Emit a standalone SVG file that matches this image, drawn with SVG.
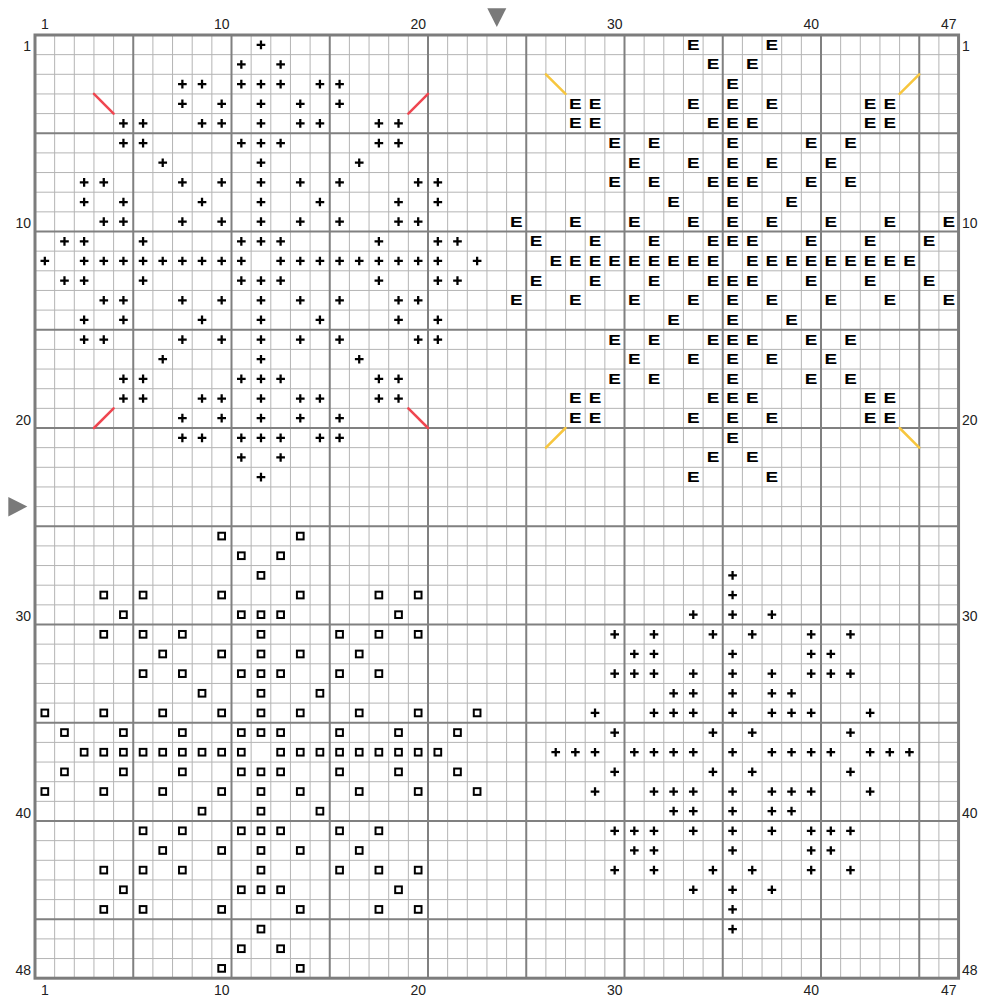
<svg xmlns="http://www.w3.org/2000/svg" xmlns:xlink="http://www.w3.org/1999/xlink" width="983" height="1001" viewBox="0 0 983 1001">
<style>
.thin{fill:none;stroke:#b4b4b4;stroke-width:1}
.thick{fill:none;stroke:#808080;stroke-width:2}
.border{fill:none;stroke:#7c7c7c;stroke-width:3}
.lbl{font-family:"Liberation Sans",Arial,sans-serif;font-size:14px;fill:#222}
.mid{text-anchor:middle}
.end{text-anchor:end}
.e{font-family:"Liberation Sans",Arial,sans-serif;font-weight:bold;font-size:14px;text-anchor:middle;fill:#000}
.red{stroke:#ef4650;stroke-width:2.5;stroke-linecap:round}
.yel{stroke:#f7c63e;stroke-width:2.5;stroke-linecap:round}
.arrow{fill:#7a7a7a}
</style>
<defs>
<path id="p" d="M-.22 0H.22M0-.22V.22" stroke="#000" stroke-width=".115" fill="none"/>
<rect id="q" x="-.17" y="-.17" width=".34" height=".34" stroke="#000" stroke-width=".102" fill="none"/>
</defs>
<rect width="983" height="1001" fill="#fff"/>
<g id="grid">
<path class="thin" d="M54.65 35V978.2M74.3 35V978.2M93.95 35V978.2M113.6 35V978.2M152.9 35V978.2M172.55 35V978.2M192.2 35V978.2M211.85 35V978.2M251.15 35V978.2M270.8 35V978.2M290.45 35V978.2M310.1 35V978.2M349.4 35V978.2M369.05 35V978.2M388.7 35V978.2M408.35 35V978.2M447.65 35V978.2M467.3 35V978.2M486.95 35V978.2M506.6 35V978.2M545.9 35V978.2M565.55 35V978.2M585.2 35V978.2M604.85 35V978.2M644.15 35V978.2M663.8 35V978.2M683.45 35V978.2M703.1 35V978.2M742.4 35V978.2M762.05 35V978.2M781.7 35V978.2M801.35 35V978.2M840.65 35V978.2M860.3 35V978.2M879.95 35V978.2M899.6 35V978.2M938.9 35V978.2"/>
<path class="thin" d="M35 54.65H958.55M35 74.3H958.55M35 93.95H958.55M35 113.6H958.55M35 152.9H958.55M35 172.55H958.55M35 192.2H958.55M35 211.85H958.55M35 251.15H958.55M35 270.8H958.55M35 290.45H958.55M35 310.1H958.55M35 349.4H958.55M35 369.05H958.55M35 388.7H958.55M35 408.35H958.55M35 447.65H958.55M35 467.3H958.55M35 486.95H958.55M35 506.6H958.55M35 545.9H958.55M35 565.55H958.55M35 585.2H958.55M35 604.85H958.55M35 644.15H958.55M35 663.8H958.55M35 683.45H958.55M35 703.1H958.55M35 742.4H958.55M35 762.05H958.55M35 781.7H958.55M35 801.35H958.55M35 840.65H958.55M35 860.3H958.55M35 879.95H958.55M35 899.6H958.55M35 938.9H958.55M35 958.55H958.55"/>
<path class="thick" d="M133.25 35V978.2M231.5 35V978.2M329.75 35V978.2M428 35V978.2M526.25 35V978.2M624.5 35V978.2M722.75 35V978.2M821 35V978.2M919.25 35V978.2M35 133.25H958.55M35 231.5H958.55M35 329.75H958.55M35 428H958.55M35 526.25H958.55M35 624.5H958.55M35 722.75H958.55M35 821H958.55M35 919.25H958.55"/>
<rect class="border" x="35" y="35" width="923.55" height="943.2"/>
</g>
<g transform="translate(25.175 25.175) scale(19.65)">
<g id="motif-tl">
<use href="#p" x="12" y="1"/>
<use href="#p" x="11" y="2"/><use href="#p" x="13" y="2"/>
<use href="#p" x="8" y="3"/><use href="#p" x="9" y="3"/><use href="#p" x="11" y="3"/><use href="#p" x="12" y="3"/><use href="#p" x="13" y="3"/><use href="#p" x="15" y="3"/><use href="#p" x="16" y="3"/>
<use href="#p" x="8" y="4"/><use href="#p" x="10" y="4"/><use href="#p" x="12" y="4"/><use href="#p" x="14" y="4"/><use href="#p" x="16" y="4"/>
<use href="#p" x="5" y="5"/><use href="#p" x="6" y="5"/><use href="#p" x="9" y="5"/><use href="#p" x="10" y="5"/><use href="#p" x="12" y="5"/><use href="#p" x="14" y="5"/><use href="#p" x="15" y="5"/><use href="#p" x="18" y="5"/><use href="#p" x="19" y="5"/>
<use href="#p" x="5" y="6"/><use href="#p" x="6" y="6"/><use href="#p" x="11" y="6"/><use href="#p" x="12" y="6"/><use href="#p" x="13" y="6"/><use href="#p" x="18" y="6"/><use href="#p" x="19" y="6"/>
<use href="#p" x="7" y="7"/><use href="#p" x="12" y="7"/><use href="#p" x="17" y="7"/>
<use href="#p" x="3" y="8"/><use href="#p" x="4" y="8"/><use href="#p" x="8" y="8"/><use href="#p" x="10" y="8"/><use href="#p" x="12" y="8"/><use href="#p" x="14" y="8"/><use href="#p" x="16" y="8"/><use href="#p" x="20" y="8"/><use href="#p" x="21" y="8"/>
<use href="#p" x="3" y="9"/><use href="#p" x="5" y="9"/><use href="#p" x="9" y="9"/><use href="#p" x="12" y="9"/><use href="#p" x="15" y="9"/><use href="#p" x="19" y="9"/><use href="#p" x="21" y="9"/>
<use href="#p" x="4" y="10"/><use href="#p" x="5" y="10"/><use href="#p" x="8" y="10"/><use href="#p" x="10" y="10"/><use href="#p" x="12" y="10"/><use href="#p" x="14" y="10"/><use href="#p" x="16" y="10"/><use href="#p" x="19" y="10"/><use href="#p" x="20" y="10"/>
<use href="#p" x="2" y="11"/><use href="#p" x="3" y="11"/><use href="#p" x="6" y="11"/><use href="#p" x="11" y="11"/><use href="#p" x="12" y="11"/><use href="#p" x="13" y="11"/><use href="#p" x="18" y="11"/><use href="#p" x="21" y="11"/><use href="#p" x="22" y="11"/>
<use href="#p" x="1" y="12"/><use href="#p" x="3" y="12"/><use href="#p" x="4" y="12"/><use href="#p" x="5" y="12"/><use href="#p" x="6" y="12"/><use href="#p" x="7" y="12"/><use href="#p" x="8" y="12"/><use href="#p" x="9" y="12"/><use href="#p" x="10" y="12"/><use href="#p" x="11" y="12"/><use href="#p" x="13" y="12"/><use href="#p" x="14" y="12"/><use href="#p" x="15" y="12"/><use href="#p" x="16" y="12"/><use href="#p" x="17" y="12"/><use href="#p" x="18" y="12"/><use href="#p" x="19" y="12"/><use href="#p" x="20" y="12"/><use href="#p" x="21" y="12"/><use href="#p" x="23" y="12"/>
<use href="#p" x="2" y="13"/><use href="#p" x="3" y="13"/><use href="#p" x="6" y="13"/><use href="#p" x="11" y="13"/><use href="#p" x="12" y="13"/><use href="#p" x="13" y="13"/><use href="#p" x="18" y="13"/><use href="#p" x="21" y="13"/><use href="#p" x="22" y="13"/>
<use href="#p" x="4" y="14"/><use href="#p" x="5" y="14"/><use href="#p" x="8" y="14"/><use href="#p" x="10" y="14"/><use href="#p" x="12" y="14"/><use href="#p" x="14" y="14"/><use href="#p" x="16" y="14"/><use href="#p" x="19" y="14"/><use href="#p" x="20" y="14"/>
<use href="#p" x="3" y="15"/><use href="#p" x="5" y="15"/><use href="#p" x="9" y="15"/><use href="#p" x="12" y="15"/><use href="#p" x="15" y="15"/><use href="#p" x="19" y="15"/><use href="#p" x="21" y="15"/>
<use href="#p" x="3" y="16"/><use href="#p" x="4" y="16"/><use href="#p" x="8" y="16"/><use href="#p" x="10" y="16"/><use href="#p" x="12" y="16"/><use href="#p" x="14" y="16"/><use href="#p" x="16" y="16"/><use href="#p" x="20" y="16"/><use href="#p" x="21" y="16"/>
<use href="#p" x="7" y="17"/><use href="#p" x="12" y="17"/><use href="#p" x="17" y="17"/>
<use href="#p" x="5" y="18"/><use href="#p" x="6" y="18"/><use href="#p" x="11" y="18"/><use href="#p" x="12" y="18"/><use href="#p" x="13" y="18"/><use href="#p" x="18" y="18"/><use href="#p" x="19" y="18"/>
<use href="#p" x="5" y="19"/><use href="#p" x="6" y="19"/><use href="#p" x="9" y="19"/><use href="#p" x="10" y="19"/><use href="#p" x="12" y="19"/><use href="#p" x="14" y="19"/><use href="#p" x="15" y="19"/><use href="#p" x="18" y="19"/><use href="#p" x="19" y="19"/>
<use href="#p" x="8" y="20"/><use href="#p" x="10" y="20"/><use href="#p" x="12" y="20"/><use href="#p" x="14" y="20"/><use href="#p" x="16" y="20"/>
<use href="#p" x="8" y="21"/><use href="#p" x="9" y="21"/><use href="#p" x="11" y="21"/><use href="#p" x="12" y="21"/><use href="#p" x="13" y="21"/><use href="#p" x="15" y="21"/><use href="#p" x="16" y="21"/>
<use href="#p" x="11" y="22"/><use href="#p" x="13" y="22"/>
<use href="#p" x="12" y="23"/>
</g>
<g id="motif-bl">
<use href="#q" x="10" y="26"/><use href="#q" x="14" y="26"/>
<use href="#q" x="11" y="27"/><use href="#q" x="13" y="27"/>
<use href="#q" x="12" y="28"/>
<use href="#q" x="4" y="29"/><use href="#q" x="6" y="29"/><use href="#q" x="10" y="29"/><use href="#q" x="14" y="29"/><use href="#q" x="18" y="29"/><use href="#q" x="20" y="29"/>
<use href="#q" x="5" y="30"/><use href="#q" x="11" y="30"/><use href="#q" x="12" y="30"/><use href="#q" x="13" y="30"/><use href="#q" x="19" y="30"/>
<use href="#q" x="4" y="31"/><use href="#q" x="6" y="31"/><use href="#q" x="8" y="31"/><use href="#q" x="12" y="31"/><use href="#q" x="16" y="31"/><use href="#q" x="18" y="31"/><use href="#q" x="20" y="31"/>
<use href="#q" x="7" y="32"/><use href="#q" x="10" y="32"/><use href="#q" x="12" y="32"/><use href="#q" x="14" y="32"/><use href="#q" x="17" y="32"/>
<use href="#q" x="6" y="33"/><use href="#q" x="8" y="33"/><use href="#q" x="11" y="33"/><use href="#q" x="12" y="33"/><use href="#q" x="13" y="33"/><use href="#q" x="16" y="33"/><use href="#q" x="18" y="33"/>
<use href="#q" x="9" y="34"/><use href="#q" x="12" y="34"/><use href="#q" x="15" y="34"/>
<use href="#q" x="1" y="35"/><use href="#q" x="4" y="35"/><use href="#q" x="7" y="35"/><use href="#q" x="10" y="35"/><use href="#q" x="12" y="35"/><use href="#q" x="14" y="35"/><use href="#q" x="17" y="35"/><use href="#q" x="20" y="35"/><use href="#q" x="23" y="35"/>
<use href="#q" x="2" y="36"/><use href="#q" x="5" y="36"/><use href="#q" x="8" y="36"/><use href="#q" x="11" y="36"/><use href="#q" x="12" y="36"/><use href="#q" x="13" y="36"/><use href="#q" x="16" y="36"/><use href="#q" x="19" y="36"/><use href="#q" x="22" y="36"/>
<use href="#q" x="3" y="37"/><use href="#q" x="4" y="37"/><use href="#q" x="5" y="37"/><use href="#q" x="6" y="37"/><use href="#q" x="7" y="37"/><use href="#q" x="8" y="37"/><use href="#q" x="9" y="37"/><use href="#q" x="10" y="37"/><use href="#q" x="11" y="37"/><use href="#q" x="13" y="37"/><use href="#q" x="14" y="37"/><use href="#q" x="15" y="37"/><use href="#q" x="16" y="37"/><use href="#q" x="17" y="37"/><use href="#q" x="18" y="37"/><use href="#q" x="19" y="37"/><use href="#q" x="20" y="37"/><use href="#q" x="21" y="37"/>
<use href="#q" x="2" y="38"/><use href="#q" x="5" y="38"/><use href="#q" x="8" y="38"/><use href="#q" x="11" y="38"/><use href="#q" x="12" y="38"/><use href="#q" x="13" y="38"/><use href="#q" x="16" y="38"/><use href="#q" x="19" y="38"/><use href="#q" x="22" y="38"/>
<use href="#q" x="1" y="39"/><use href="#q" x="4" y="39"/><use href="#q" x="7" y="39"/><use href="#q" x="10" y="39"/><use href="#q" x="12" y="39"/><use href="#q" x="14" y="39"/><use href="#q" x="17" y="39"/><use href="#q" x="20" y="39"/><use href="#q" x="23" y="39"/>
<use href="#q" x="9" y="40"/><use href="#q" x="12" y="40"/><use href="#q" x="15" y="40"/>
<use href="#q" x="6" y="41"/><use href="#q" x="8" y="41"/><use href="#q" x="11" y="41"/><use href="#q" x="12" y="41"/><use href="#q" x="13" y="41"/><use href="#q" x="16" y="41"/><use href="#q" x="18" y="41"/>
<use href="#q" x="7" y="42"/><use href="#q" x="10" y="42"/><use href="#q" x="12" y="42"/><use href="#q" x="14" y="42"/><use href="#q" x="17" y="42"/>
<use href="#q" x="4" y="43"/><use href="#q" x="6" y="43"/><use href="#q" x="8" y="43"/><use href="#q" x="12" y="43"/><use href="#q" x="16" y="43"/><use href="#q" x="18" y="43"/><use href="#q" x="20" y="43"/>
<use href="#q" x="5" y="44"/><use href="#q" x="11" y="44"/><use href="#q" x="12" y="44"/><use href="#q" x="13" y="44"/><use href="#q" x="19" y="44"/>
<use href="#q" x="4" y="45"/><use href="#q" x="6" y="45"/><use href="#q" x="10" y="45"/><use href="#q" x="14" y="45"/><use href="#q" x="18" y="45"/><use href="#q" x="20" y="45"/>
<use href="#q" x="12" y="46"/>
<use href="#q" x="11" y="47"/><use href="#q" x="13" y="47"/>
<use href="#q" x="10" y="48"/><use href="#q" x="14" y="48"/>
</g>
<g id="motif-br">
<use href="#p" x="36" y="28"/>
<use href="#p" x="36" y="29"/>
<use href="#p" x="34" y="30"/><use href="#p" x="36" y="30"/><use href="#p" x="38" y="30"/>
<use href="#p" x="30" y="31"/><use href="#p" x="32" y="31"/><use href="#p" x="35" y="31"/><use href="#p" x="37" y="31"/><use href="#p" x="40" y="31"/><use href="#p" x="42" y="31"/>
<use href="#p" x="31" y="32"/><use href="#p" x="32" y="32"/><use href="#p" x="36" y="32"/><use href="#p" x="40" y="32"/><use href="#p" x="41" y="32"/>
<use href="#p" x="30" y="33"/><use href="#p" x="31" y="33"/><use href="#p" x="32" y="33"/><use href="#p" x="34" y="33"/><use href="#p" x="36" y="33"/><use href="#p" x="38" y="33"/><use href="#p" x="40" y="33"/><use href="#p" x="41" y="33"/><use href="#p" x="42" y="33"/>
<use href="#p" x="33" y="34"/><use href="#p" x="34" y="34"/><use href="#p" x="36" y="34"/><use href="#p" x="38" y="34"/><use href="#p" x="39" y="34"/>
<use href="#p" x="29" y="35"/><use href="#p" x="32" y="35"/><use href="#p" x="33" y="35"/><use href="#p" x="34" y="35"/><use href="#p" x="36" y="35"/><use href="#p" x="38" y="35"/><use href="#p" x="39" y="35"/><use href="#p" x="40" y="35"/><use href="#p" x="43" y="35"/>
<use href="#p" x="30" y="36"/><use href="#p" x="35" y="36"/><use href="#p" x="37" y="36"/><use href="#p" x="42" y="36"/>
<use href="#p" x="27" y="37"/><use href="#p" x="28" y="37"/><use href="#p" x="29" y="37"/><use href="#p" x="31" y="37"/><use href="#p" x="32" y="37"/><use href="#p" x="33" y="37"/><use href="#p" x="34" y="37"/><use href="#p" x="36" y="37"/><use href="#p" x="38" y="37"/><use href="#p" x="39" y="37"/><use href="#p" x="40" y="37"/><use href="#p" x="41" y="37"/><use href="#p" x="43" y="37"/><use href="#p" x="44" y="37"/><use href="#p" x="45" y="37"/>
<use href="#p" x="30" y="38"/><use href="#p" x="35" y="38"/><use href="#p" x="37" y="38"/><use href="#p" x="42" y="38"/>
<use href="#p" x="29" y="39"/><use href="#p" x="32" y="39"/><use href="#p" x="33" y="39"/><use href="#p" x="34" y="39"/><use href="#p" x="36" y="39"/><use href="#p" x="38" y="39"/><use href="#p" x="39" y="39"/><use href="#p" x="40" y="39"/><use href="#p" x="43" y="39"/>
<use href="#p" x="33" y="40"/><use href="#p" x="34" y="40"/><use href="#p" x="36" y="40"/><use href="#p" x="38" y="40"/><use href="#p" x="39" y="40"/>
<use href="#p" x="30" y="41"/><use href="#p" x="31" y="41"/><use href="#p" x="32" y="41"/><use href="#p" x="34" y="41"/><use href="#p" x="36" y="41"/><use href="#p" x="38" y="41"/><use href="#p" x="40" y="41"/><use href="#p" x="41" y="41"/><use href="#p" x="42" y="41"/>
<use href="#p" x="31" y="42"/><use href="#p" x="32" y="42"/><use href="#p" x="36" y="42"/><use href="#p" x="40" y="42"/><use href="#p" x="41" y="42"/>
<use href="#p" x="30" y="43"/><use href="#p" x="32" y="43"/><use href="#p" x="35" y="43"/><use href="#p" x="37" y="43"/><use href="#p" x="40" y="43"/><use href="#p" x="42" y="43"/>
<use href="#p" x="34" y="44"/><use href="#p" x="36" y="44"/><use href="#p" x="38" y="44"/>
<use href="#p" x="36" y="45"/>
<use href="#p" x="36" y="46"/>
</g>
</g>
<g id="motif-tr" transform="scale(1.35 1)">
<text class="e" x="513.54" y="49.8">E</text><text class="e" x="571.77" y="49.8">E</text>
<text class="e" x="528.10" y="69.5">E</text><text class="e" x="557.21" y="69.5">E</text>
<text class="e" x="542.66" y="89.1">E</text>
<text class="e" x="426.21" y="108.8">E</text><text class="e" x="440.77" y="108.8">E</text><text class="e" x="513.54" y="108.8">E</text><text class="e" x="542.66" y="108.8">E</text><text class="e" x="571.77" y="108.8">E</text><text class="e" x="644.55" y="108.8">E</text><text class="e" x="659.10" y="108.8">E</text>
<text class="e" x="426.21" y="128.4">E</text><text class="e" x="440.77" y="128.4">E</text><text class="e" x="528.10" y="128.4">E</text><text class="e" x="542.66" y="128.4">E</text><text class="e" x="557.21" y="128.4">E</text><text class="e" x="644.55" y="128.4">E</text><text class="e" x="659.10" y="128.4">E</text>
<text class="e" x="455.32" y="148.1">E</text><text class="e" x="484.43" y="148.1">E</text><text class="e" x="542.66" y="148.1">E</text><text class="e" x="600.88" y="148.1">E</text><text class="e" x="629.99" y="148.1">E</text>
<text class="e" x="469.88" y="167.7">E</text><text class="e" x="513.54" y="167.7">E</text><text class="e" x="542.66" y="167.7">E</text><text class="e" x="571.77" y="167.7">E</text><text class="e" x="615.43" y="167.7">E</text>
<text class="e" x="455.32" y="187.4">E</text><text class="e" x="484.43" y="187.4">E</text><text class="e" x="528.10" y="187.4">E</text><text class="e" x="542.66" y="187.4">E</text><text class="e" x="557.21" y="187.4">E</text><text class="e" x="600.88" y="187.4">E</text><text class="e" x="629.99" y="187.4">E</text>
<text class="e" x="498.99" y="207.0">E</text><text class="e" x="542.66" y="207.0">E</text><text class="e" x="586.32" y="207.0">E</text>
<text class="e" x="382.54" y="226.7">E</text><text class="e" x="426.21" y="226.7">E</text><text class="e" x="469.88" y="226.7">E</text><text class="e" x="513.54" y="226.7">E</text><text class="e" x="542.66" y="226.7">E</text><text class="e" x="571.77" y="226.7">E</text><text class="e" x="615.43" y="226.7">E</text><text class="e" x="659.10" y="226.7">E</text><text class="e" x="702.77" y="226.7">E</text>
<text class="e" x="397.10" y="246.3">E</text><text class="e" x="440.77" y="246.3">E</text><text class="e" x="484.43" y="246.3">E</text><text class="e" x="528.10" y="246.3">E</text><text class="e" x="542.66" y="246.3">E</text><text class="e" x="557.21" y="246.3">E</text><text class="e" x="600.88" y="246.3">E</text><text class="e" x="644.55" y="246.3">E</text><text class="e" x="688.21" y="246.3">E</text>
<text class="e" x="411.65" y="266.0">E</text><text class="e" x="426.21" y="266.0">E</text><text class="e" x="440.77" y="266.0">E</text><text class="e" x="455.32" y="266.0">E</text><text class="e" x="469.88" y="266.0">E</text><text class="e" x="484.43" y="266.0">E</text><text class="e" x="498.99" y="266.0">E</text><text class="e" x="513.54" y="266.0">E</text><text class="e" x="528.10" y="266.0">E</text><text class="e" x="557.21" y="266.0">E</text><text class="e" x="571.77" y="266.0">E</text><text class="e" x="586.32" y="266.0">E</text><text class="e" x="600.88" y="266.0">E</text><text class="e" x="615.43" y="266.0">E</text><text class="e" x="629.99" y="266.0">E</text><text class="e" x="644.55" y="266.0">E</text><text class="e" x="659.10" y="266.0">E</text><text class="e" x="673.66" y="266.0">E</text>
<text class="e" x="397.10" y="285.6">E</text><text class="e" x="440.77" y="285.6">E</text><text class="e" x="484.43" y="285.6">E</text><text class="e" x="528.10" y="285.6">E</text><text class="e" x="542.66" y="285.6">E</text><text class="e" x="557.21" y="285.6">E</text><text class="e" x="600.88" y="285.6">E</text><text class="e" x="644.55" y="285.6">E</text><text class="e" x="688.21" y="285.6">E</text>
<text class="e" x="382.54" y="305.3">E</text><text class="e" x="426.21" y="305.3">E</text><text class="e" x="469.88" y="305.3">E</text><text class="e" x="513.54" y="305.3">E</text><text class="e" x="542.66" y="305.3">E</text><text class="e" x="571.77" y="305.3">E</text><text class="e" x="615.43" y="305.3">E</text><text class="e" x="659.10" y="305.3">E</text><text class="e" x="702.77" y="305.3">E</text>
<text class="e" x="498.99" y="324.9">E</text><text class="e" x="542.66" y="324.9">E</text><text class="e" x="586.32" y="324.9">E</text>
<text class="e" x="455.32" y="344.6">E</text><text class="e" x="484.43" y="344.6">E</text><text class="e" x="528.10" y="344.6">E</text><text class="e" x="542.66" y="344.6">E</text><text class="e" x="557.21" y="344.6">E</text><text class="e" x="600.88" y="344.6">E</text><text class="e" x="629.99" y="344.6">E</text>
<text class="e" x="469.88" y="364.2">E</text><text class="e" x="513.54" y="364.2">E</text><text class="e" x="542.66" y="364.2">E</text><text class="e" x="571.77" y="364.2">E</text><text class="e" x="615.43" y="364.2">E</text>
<text class="e" x="455.32" y="383.9">E</text><text class="e" x="484.43" y="383.9">E</text><text class="e" x="542.66" y="383.9">E</text><text class="e" x="600.88" y="383.9">E</text><text class="e" x="629.99" y="383.9">E</text>
<text class="e" x="426.21" y="403.5">E</text><text class="e" x="440.77" y="403.5">E</text><text class="e" x="528.10" y="403.5">E</text><text class="e" x="542.66" y="403.5">E</text><text class="e" x="557.21" y="403.5">E</text><text class="e" x="644.55" y="403.5">E</text><text class="e" x="659.10" y="403.5">E</text>
<text class="e" x="426.21" y="423.2">E</text><text class="e" x="440.77" y="423.2">E</text><text class="e" x="513.54" y="423.2">E</text><text class="e" x="542.66" y="423.2">E</text><text class="e" x="571.77" y="423.2">E</text><text class="e" x="644.55" y="423.2">E</text><text class="e" x="659.10" y="423.2">E</text>
<text class="e" x="542.66" y="442.8">E</text>
<text class="e" x="528.10" y="462.5">E</text><text class="e" x="557.21" y="462.5">E</text>
<text class="e" x="513.54" y="482.1">E</text><text class="e" x="571.77" y="482.1">E</text>
</g>
<g id="marks">
<line class="red" x1="93.95" y1="93.95" x2="113.6" y2="113.6"/>
<line class="red" x1="408.35" y1="113.6" x2="428" y2="93.95"/>
<line class="red" x1="93.95" y1="428" x2="113.6" y2="408.35"/>
<line class="red" x1="408.35" y1="408.35" x2="428" y2="428"/>
<line class="yel" x1="545.9" y1="74.3" x2="565.55" y2="93.95"/>
<line class="yel" x1="899.6" y1="93.95" x2="919.25" y2="74.3"/>
<line class="yel" x1="545.9" y1="447.65" x2="565.55" y2="428"/>
<line class="yel" x1="899.6" y1="428" x2="919.25" y2="447.65"/>
</g>
<g id="labels">
<text class="lbl mid" x="44.83" y="28.5">1</text><text class="lbl mid" x="221.68" y="28.5">10</text><text class="lbl mid" x="418.18" y="28.5">20</text><text class="lbl mid" x="614.68" y="28.5">30</text><text class="lbl mid" x="811.18" y="28.5">40</text><text class="lbl mid" x="948.73" y="28.5">47</text>
<text class="lbl mid" x="44.83" y="995">1</text><text class="lbl mid" x="221.68" y="995">10</text><text class="lbl mid" x="418.18" y="995">20</text><text class="lbl mid" x="614.68" y="995">30</text><text class="lbl mid" x="811.18" y="995">40</text><text class="lbl mid" x="948.73" y="995">47</text>
<text class="lbl end" x="31" y="51.3">1</text><text class="lbl end" x="31" y="228.2">10</text><text class="lbl end" x="31" y="424.7">20</text><text class="lbl end" x="31" y="621.2">30</text><text class="lbl end" x="31" y="817.7">40</text><text class="lbl end" x="31" y="974.9">48</text>
<text class="lbl" x="962" y="51.3">1</text><text class="lbl" x="962" y="228.2">10</text><text class="lbl" x="962" y="424.7">20</text><text class="lbl" x="962" y="621.2">30</text><text class="lbl" x="962" y="817.7">40</text><text class="lbl" x="962" y="974.9">48</text>
</g>
<g id="centre-arrows">
<polygon class="arrow" points="487.3,8.3 506.3,8.3 496.8,27"/>
<polygon class="arrow" points="8.3,497 8.3,516.4 27.3,506.6"/>
</g>
</svg>
